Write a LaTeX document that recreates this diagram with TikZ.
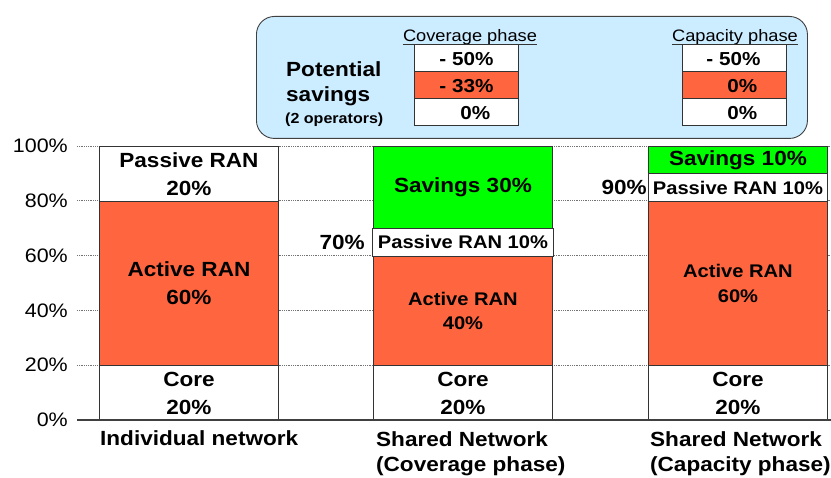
\documentclass[tikz,border=0pt]{standalone}
\usepackage{fontspec}
\setmainfont{Liberation Sans}[FakeStretch=1.1]
\definecolor{ran}{RGB}{255,102,64}
\definecolor{sav}{RGB}{0,255,0}
\definecolor{boxblue}{RGB}{204,236,255}
\begin{document}
\begin{tikzpicture}[x=1pt,y=-1pt,
  big/.style={font=\bfseries\fontsize{20.5}{28}\selectfont, align=center},
  small/.style={font=\bfseries\fontsize{18.3}{24.5}\selectfont, align=center},
  seg/.style={draw=black!80, line width=0.9pt, inner sep=0pt, anchor=north west, minimum width=179pt},
  gridln/.style={draw=black!55, densely dotted, line width=0.8pt},
  axlab/.style={font=\fontsize{19.5}{22}\selectfont, anchor=east, inner sep=0pt},
  cell/.style={draw=black!80, line width=0.8pt, minimum width=104pt, minimum height=27pt, inner sep=0pt, anchor=north west},
  val/.style={font=\bfseries\fontsize{18.8}{22}\selectfont, inner sep=0pt},
  hdr/.style={font=\fontsize{16.6}{20}\selectfont, anchor=base, inner sep=0pt},
  catlab/.style={font=\bfseries\fontsize{20.5}{25}\selectfont, anchor=base west, inner sep=0pt},
]
\useasboundingbox (0,0) rectangle (831,478);

% panel
\node[draw=black!75, fill=boxblue, rounded corners=18pt, minimum width=551pt, minimum height=122pt, anchor=north west, line width=0.9pt, inner sep=0pt] (panel) at (256,16) {};
\node[font=\bfseries\fontsize{20.5}{25}\selectfont, anchor=base west, inner sep=0pt] (pot) at (286,77) {Potential};
\node[font=\bfseries\fontsize{20.5}{25}\selectfont, anchor=base west, inner sep=0pt] (savw) at (286,102) {savings};
\node[font=\bfseries\fontsize{14.6}{18}\selectfont, anchor=base west, inner sep=0pt] (ops) at (285,124) {(2 operators)};

\node[hdr] (covh) at (470,42) {Coverage phase};
\node[hdr] (caph) at (735,42) {Capacity phase};

\node[cell, fill=white] (cc1) at (414,44) {};
\node[cell, fill=ran] (cc2) at (414,71) {};
\node[cell, fill=white] (cc3) at (414,98) {};
\node[cell, fill=white] (pc1) at (682,44) {};
\node[cell, fill=ran] (pc2) at (682,71) {};
\node[cell, fill=white] (pc3) at (682,98) {};
\draw[black!80, line width=0.8pt] ([yshift=-2pt]covh.base west) -- ([yshift=-2pt]covh.base east);
\draw[black!80, line width=0.8pt] ([yshift=-2pt]caph.base west) -- ([yshift=-2pt]caph.base east);

\node[val] at ([yshift=-1pt]cc1.center) {- 50\%};
\node[val] at ([yshift=-1pt]cc2.center) {- 33\%};
\node[val] at ([xshift=9pt,yshift=-1pt]cc3.center) {0\%};
\node[val] at ([xshift=-1pt,yshift=-1pt]pc1.center) {- 50\%};
\node[val] at ([xshift=8pt,yshift=-1pt]pc2.center) {0\%};
\node[val] at ([xshift=8pt,yshift=-1pt]pc3.center) {0\%};

% axis labels and grid
\foreach \p/\t in {0/0\%,20/20\%,40/40\%,60/60\%,80/80\%,100/100\%}{
  \node[axlab] (ax\p) at (68,{420-2.74*\p}) {\t};
}
\foreach \p in {20,40,60,80,100}{
  \draw[gridln] (77,{420-2.74*\p}) -- (831,{420-2.74*\p});
}

% bar 1
\node[seg, fill=white, minimum height=54.8pt, big] (b1c) at (99,365.2) {Core\\20\%};
\node[seg, fill=ran, minimum height=164.4pt, big] (b1a) at (99,200.8) {Active RAN\\60\%};
\node[seg, fill=white, minimum height=54.8pt, big] (b1p) at (99,146) {Passive RAN\\20\%};

% bar 2
\node[seg, fill=white, minimum height=54.8pt, big] (b2c) at (373,365.2) {Core\\20\%};
\node[seg, fill=ran, minimum height=109.6pt, small] (b2a) at (373,255.6) {Active RAN\\40\%};
\node[seg, fill=sav, minimum height=82.2pt, big] (b2s) at (373,146) {Savings 30\%};
\node[seg, fill=white, minimum height=27.4pt, minimum width=181pt, small] (b2p) at (372,228.2) {Passive RAN 10\%};

% bar 3
\node[seg, fill=white, minimum height=54.8pt, big] (b3c) at (648,365.2) {Core\\20\%};
\node[seg, fill=ran, minimum height=164.4pt, small] (b3a) at (648,200.8) {Active RAN\\60\%};
\node[seg, fill=white, minimum height=27.4pt, small] (b3p) at (648,173.4) {Passive RAN 10\%};
\node[seg, fill=sav, minimum height=27.4pt, big] (b3s) at (648,146) {Savings 10\%};

\node[big, anchor=east, inner sep=0pt] (l70) at ([xshift=-7pt]b2p.west) {70\%};
\node[big, anchor=east, inner sep=0pt] (l90) at ([xshift=-1pt]b3p.west) {90\%};

% axis
\draw[black!75, line width=1.2pt] (77,420) -- (831,420);

% category labels
\node[catlab] (c1) at (100,446) {Individual network};
\node[catlab] (c2a) at (376,447) {Shared Network};
\node[catlab] (c2b) at (376,472) {(Coverage phase)};
\node[catlab] (c3a) at (650,447) {Shared Network};
\node[catlab] (c3b) at (650,472) {(Capacity phase)};
\end{tikzpicture}
\end{document}
